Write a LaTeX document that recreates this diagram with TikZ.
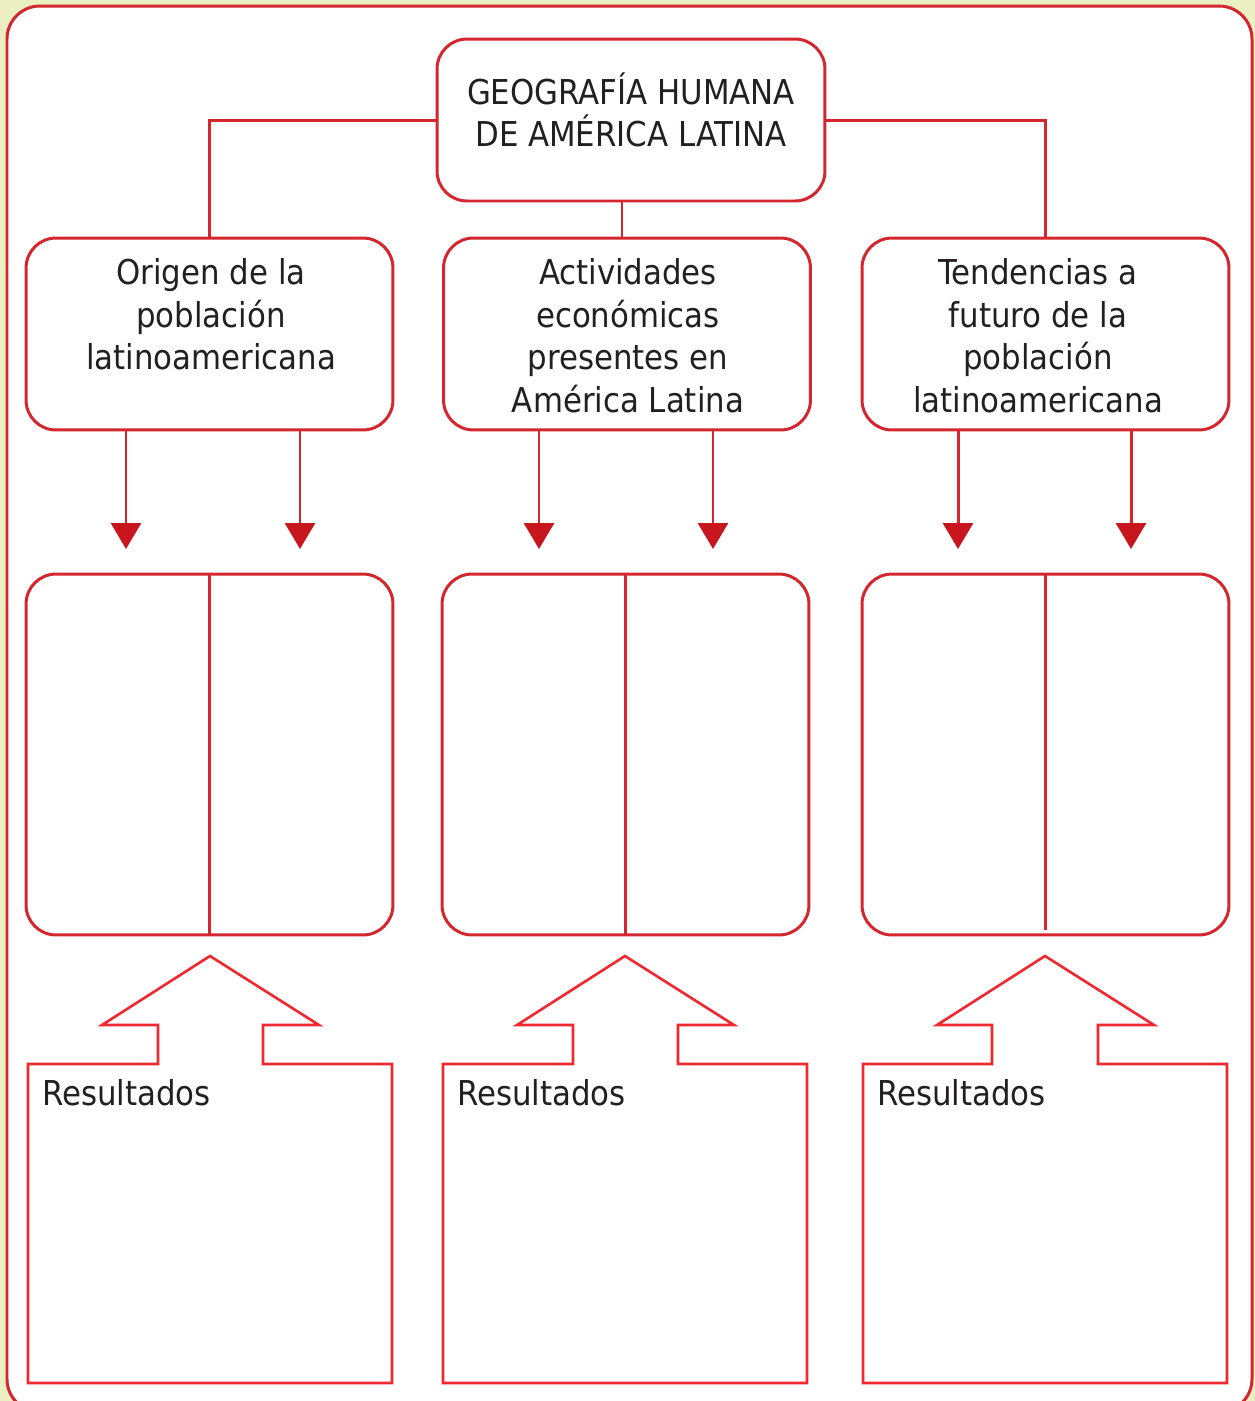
\documentclass[tikz,border=0pt]{standalone}
\usepackage{fontspec}
\setmainfont{DejaVu Sans Condensed}
\usetikzlibrary{arrows.meta,positioning}
\definecolor{rojo}{HTML}{D3262E}
\definecolor{rojoclaro}{HTML}{EE2A30}
\definecolor{rojoosc}{HTML}{C8161E}
\definecolor{fondo}{HTML}{EBEFC2}
\definecolor{texto}{HTML}{231F20}

\begin{document}
\begin{tikzpicture}[x=0.02cm, y=-0.02cm,
  caja/.style={draw=rojo, line width=1.7pt, rounded corners=0.6cm, fill=white, inner sep=0pt},
  linea/.style={draw=rojo, line width=1.7pt},
  flecha/.style={linea, -{Triangle[width=0.6cm,length=0.52cm,fill=rojoosc,color=rojoosc]}},
  bloque/.style={draw=rojoclaro, line width=1.5pt, fill=white},
  rotulo/.style={text=texto, align=center, inner sep=0pt, font=\fontsize{19.5}{24.3}\selectfont}]
  \useasboundingbox (0,0) rectangle (1255,1401);
  \fill[fondo] (0,0) rectangle (1255,1401);
  \draw[linea, fill=white, rounded corners=0.66cm] (7,6) rectangle (1252,1412);

  % titulo
  \node[caja, minimum width=7.76cm, minimum height=3.24cm] (geo) at (631,120) {};
  \node[rotulo, anchor=north] (geoT) at (631,72) {GEOGRAFÍA HUMANA\\DE AMÉRICA LATINA};

  % temas
  \node[caja, minimum width=7.34cm, minimum height=3.84cm] (orig) at (209.5,334) {};
  \node[caja, minimum width=7.34cm, minimum height=3.84cm] (act) at (627,334) {};
  \node[caja, minimum width=7.34cm, minimum height=3.84cm] (tend) at (1045.5,334) {};
  \node[rotulo, anchor=north] (origT) at (211,258) {Origen de la\\población\\latinoamericana};
  \node[rotulo, anchor=north] (actT) at (628,258) {Actividades\\económicas\\presentes en\\América Latina};
  \node[rotulo, anchor=north] (tendT) at (1038,258) {Tendencias a\\futuro de la\\población\\latinoamericana};

  \coordinate (medio) at (622,238);
  \draw[linea] (geo.west) -| (orig.north);
  \draw[linea] (geo.east) -| (tend.north);
  \draw[linea] (medio |- geo.south) -- (medio);

  % flechas
  \coordinate (o1) at (126,549);
  \coordinate (o2) at (300,549);
  \coordinate (a1) at (539,549);
  \coordinate (a2) at (713,549);
  \coordinate (t1) at (958,549);
  \coordinate (t2) at (1131,549);
  \draw[flecha] (o1 |- orig.south) -- (o1);
  \draw[flecha] (o2 |- orig.south) -- (o2);
  \draw[flecha] (a1 |- act.south) -- (a1);
  \draw[flecha] (a2 |- act.south) -- (a2);
  \draw[flecha] (t1 |- tend.south) -- (t1);
  \draw[flecha] (t2 |- tend.south) -- (t2);

  % cuadros
  \node[caja, minimum width=7.34cm, minimum height=7.22cm] (origB) at (209.5,754.5) {};
  \node[caja, minimum width=7.34cm, minimum height=7.22cm] (actB) at (625.5,754.5) {};
  \node[caja, minimum width=7.34cm, minimum height=7.22cm] (tendB) at (1045.5,754.5) {};
  \draw[linea] (origB.north) -- (origB.south);
  \draw[linea] (actB.north) -- (actB.south);
  \draw[linea] (tendB.north) -- ([yshift=0.12cm]tendB.south);

  % resultados
  \draw[bloque] (28,1064) -- (158,1064) -- (158,1025) -- (102,1025) -- (210,956) -- (319,1025) -- (263,1025) -- (263,1064) -- (392,1064) -- (392,1383) -- (28,1383) -- cycle;
  \draw[bloque] (443,1064) -- (573,1064) -- (573,1025) -- (517,1025) -- (625,956) -- (734,1025) -- (678,1025) -- (678,1064) -- (807,1064) -- (807,1383) -- (443,1383) -- cycle;
  \draw[bloque] (863,1064) -- (992,1064) -- (992,1025) -- (937,1025) -- (1045,956) -- (1154,1025) -- (1098,1025) -- (1098,1064) -- (1227,1064) -- (1227,1383) -- (863,1383) -- cycle;
  \node[rotulo, anchor=base west] (res1) at (42,1105) {Resultados};
  \node[rotulo, anchor=base west] (res2) at (457,1105) {Resultados};
  \node[rotulo, anchor=base west] (res3) at (877,1105) {Resultados};
\end{tikzpicture}
\end{document}
